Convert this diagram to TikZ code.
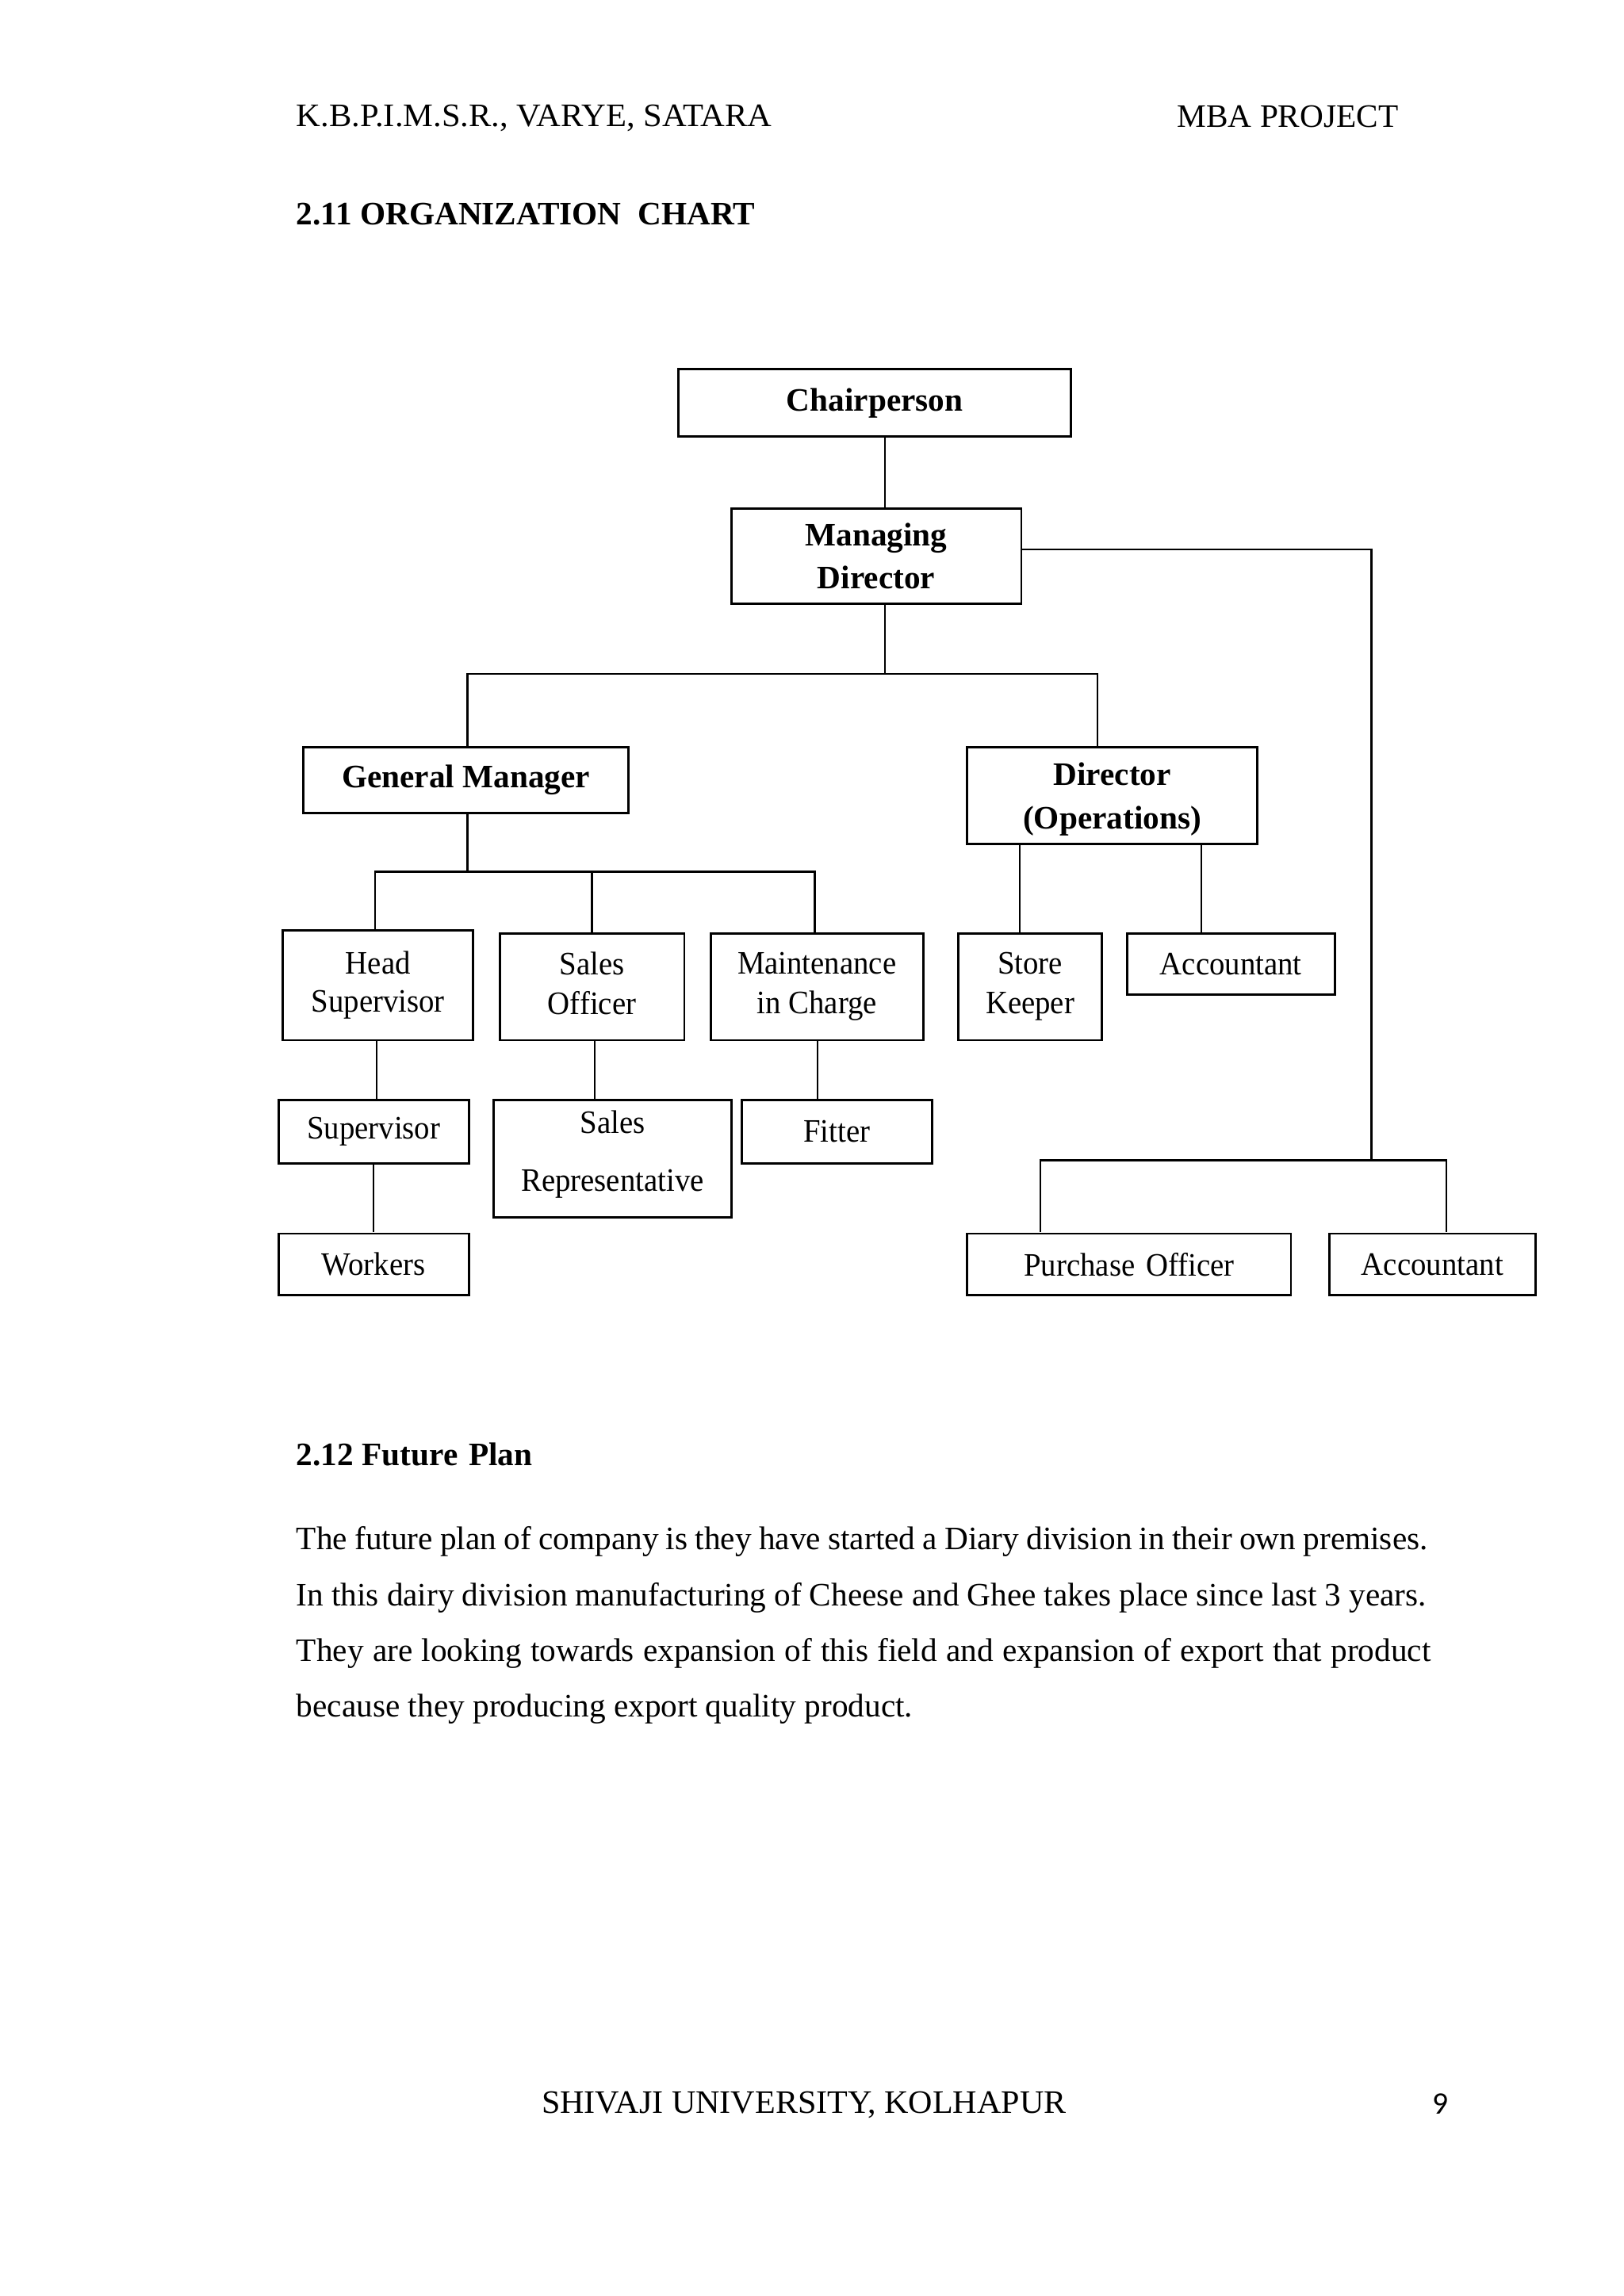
\documentclass[tikz,border=0pt]{standalone}
\usepackage{graphicx}
\usepackage{fontspec}
\setmainfont{Liberation Serif}
\newfontfamily\narrowserif[FakeStretch=0.94]{Liberation Serif}
\newfontfamily\calibri{Carlito}
\begin{document}
\begin{tikzpicture}[x=0.5412pt, y=-0.5412pt,
  every node/.style={font=\fontsize{12}{14}\selectfont},
  box/.style={draw, line width=0.85pt, inner sep=0pt, align=center, font=\fontsize{12}{14}\selectfont\narrowserif},
  bbox/.style={box, font=\fontsize{12}{15.5}\selectfont\bfseries},
  sz/.style 2 args={minimum width=#1*0.53717pt, minimum height=#2*0.53717pt},
  conn/.style={line width=0.7pt},
  txt/.style={inner sep=0pt, anchor=base west}]
\useasboundingbox[fill=white] (0,0) rectangle (1100,1555.5);

% header
\node[txt] (hl) at (200.5,85.9) {\scalebox{1.03}[1]{K.B.P.I.M.S.R., VARYE, SATARA}};
\node[txt, anchor=base east] (hr) at (947.5,86.1) {MBA PROJECT};
\node[txt, font=\fontsize{12}{14}\selectfont\bfseries] (title) at (200.5,152.2) {2.11 ORGANIZATION\ \ CHART};

\begin{scope}[scale=0.99256]
% boxes
\node[bbox, sz={268}{46}] (chair) at (597,275) {Chairperson};
\node[bbox, sz={198}{65}, font=\fontsize{12}{15.7}\selectfont\bfseries] (md) at (598,379.5) {Managing\\Director};
\node[bbox, sz={222}{45}] (gm) at (318,532.5) {General Manager};
\node[bbox, sz={198}{66}, font=\fontsize{12}{16}\selectfont\bfseries] (dops) at (759,543) {\rule{0pt}{11.1pt}Director\\(Operations)};
\node[box, sz={130}{75}] (hs) at (258,672.5) {Head\\Supervisor};
\node[box, sz={126}{73}, font=\fontsize{12}{14.6}\selectfont\narrowserif] (so) at (404,673.5) {Sales\\Officer\vphantom{p}};
\node[box, sz={145}{73}, font=\fontsize{12}{14.6}\selectfont\narrowserif] (mic) at (557.5,673.5) {Maintenance\\in Charge};
\node[box, sz={98}{73}, font=\fontsize{12}{14.6}\selectfont\narrowserif] (sk) at (703,673.5) {Store\\Keeper};
\node[box, sz={142}{42}] (acc1) at (840,658) {Accountant};
\node[box, sz={130}{43}] (sup) at (255,772.5) {Supervisor};
\node[box, sz={162}{80}, font=\fontsize{12}{21}\selectfont\narrowserif] (srep) at (418,791) {Sales\\Representative\rule[-5.8pt]{0pt}{0pt}};
\node[box, sz={130}{43}] (fit) at (571,772.5) {Fitter};
\node[box, sz={130}{42}] (wrk) at (255,863) {Workers};
\node[box, sz={221}{42}] (po) at (770.5,863) {Purchase\hspace{4pt}Officer};
\node[box, sz={141}{42}] (acc2) at (977.5,863) {Accountant};

% junctions
\coordinate (jmd) at (604,460);
\coordinate (jgm) at (319,460);
\coordinate (jdo) at (749,460);
\coordinate (jr) at (936,375);
\coordinate (jp) at (936,792);
\coordinate (jpo) at (710,792);
\coordinate (jac) at (987,792);
\coordinate (jg) at (319,595);
\coordinate (jhs) at (256,595);
\coordinate (jso) at (404,595);
\coordinate (jmi) at (556,595);
\coordinate (xsk) at (696,600);
\coordinate (xac) at (820,600);
\coordinate (xhs) at (257,730);
\coordinate (xsup) at (255,820);
\coordinate (xso) at (406,730);
\coordinate (xmi) at (558,730);

% connectors
\draw[conn] (chair.south -| jmd) -- (md.north -| jmd);
\draw[conn] (md.south -| jmd) -- (jmd);
\draw[conn] (gm.north -| jgm) -- (jgm) -- (jdo) -- (dops.north -| jdo);
\draw[conn] (md.east |- jr) -- (jr) -- (jp);
\draw[conn] (po.north -| jpo) -- (jpo) -- (jac) -- (acc2.north -| jac);
\draw[conn] (gm.south -| jg) -- (jg);
\draw[conn] (hs.north -| jhs) -- (jhs) -- (jmi) -- (mic.north -| jmi);
\draw[conn] (jso) -- (so.north -| jso);
\draw[conn] (dops.south -| xsk) -- (sk.north -| xsk);
\draw[conn] (dops.south -| xac) -- (acc1.north -| xac);
\draw[conn] (hs.south -| xhs) -- (sup.north -| xhs);
\draw[conn] (sup.south -| xsup) -- (wrk.north -| xsup);
\draw[conn] (so.south -| xso) -- (srep.north -| xso);
\draw[conn] (mic.south -| xmi) -- (fit.north -| xmi);
\end{scope}

% section 2.12
\node[txt, font=\fontsize{12}{14}\selectfont\bfseries] (fp) at (200.5,993) {2.12 Future\hspace{4pt}Plan};
\node[txt] (l1) at (200.5,1050) {\makebox[414.7pt][s]{The future plan of company is they have started a Diary division in their own premises.}};
\node[txt] (l2) at (200.5,1087.8) {\makebox[414.2pt][s]{In this dairy division manufacturing of Cheese and Ghee takes place since last 3 years.}};
\node[txt] (l3) at (200.5,1125.5) {\makebox[415.8pt][s]{They are looking towards expansion of this field and expansion of export that product}};
\node[txt] (l4) at (200.5,1163.2) {because they producing export quality product.};

% footer
\node[txt] (foot) at (366.5,1431.8) {\scalebox{1.02}[1]{SHIVAJI UNIVERSITY, KOLHAPUR}};
\node[txt, anchor=base east, font=\fontsize{11.5}{13}\selectfont\calibri] (pg) at (981.7,1432) {9};
\end{tikzpicture}
\end{document}
